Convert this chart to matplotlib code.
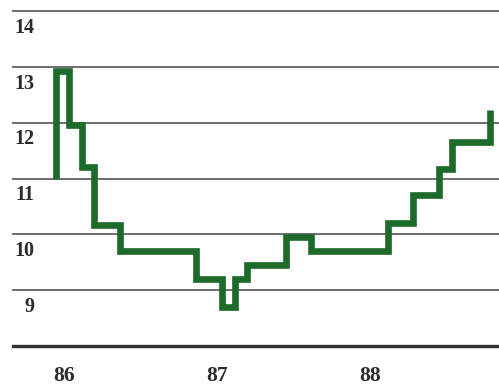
import numpy as np
import matplotlib
matplotlib.use("Agg")
import matplotlib.pyplot as plt
import matplotlib.transforms as mtransforms

# monthly values, Jan 86 .. Oct 88
start_value = 11.0
monthly = [12.93, 11.95, 11.2, 10.17, 10.17,
           9.7, 9.7, 9.7, 9.7, 9.7, 9.7,
           9.2, 9.2, 8.7, 9.2,
           9.45, 9.45, 9.45, 9.95, 9.95,
           9.7, 9.7, 9.7, 9.7, 9.7, 9.7,
           10.2, 10.2, 10.7, 10.7, 11.17,
           11.66, 11.66, 11.66]
end_value = 12.23
first_year = 86
year_ticks = [86, 87, 88]
y_levels = [9, 10, 11, 12, 13, 14]

green = '#1d6a2a'
txt = '#2b2b2b'

fig = plt.figure(figsize=(4.99, 3.86), dpi=100)
ax = fig.add_axes([0, 0, 1, 1])
ax.set_xlim(85.6345, 88.8917)
ax.set_ylim(7.284, 14.197)
for s in ax.spines.values():
    s.set_visible(False)

# gridlines + baseline
for lv in y_levels:
    ax.axhline(lv, xmin=0.026, xmax=1, color='#6e6e6e', lw=1.4, zorder=1)
    ax.text(85.857, lv - 0.3, str(lv), ha='right', va='center',
            fontsize=14.5, fontweight='bold', family='Liberation Serif', color=txt)
ax.axhline(8, xmin=0.026, xmax=1, color='#333333', lw=2.4, zorder=1)

# step line
edges = first_year + np.arange(len(monthly) + 1) / 12.0
ys_full = [start_value] + monthly + [end_value]
xs = np.repeat(edges, 2)
ys = np.repeat(ys_full, 2)[1:-1]
ax.plot(xs, ys, color=green, lw=4.8, solid_joinstyle='miter',
        solid_capstyle='butt', zorder=3)

# x labels
ax.set_xticks([])
ax.set_yticks([])
off = mtransforms.ScaledTranslation(8 / 100, 0, fig.dpi_scale_trans)
for yr in year_ticks:
    ax.text(yr, 7.47, str(yr), ha='center', va='center', fontsize=15.5,
            fontweight='bold', family='Liberation Serif', color=txt,
            transform=ax.transData + off)

fig.savefig('out.png', dpi=100)
